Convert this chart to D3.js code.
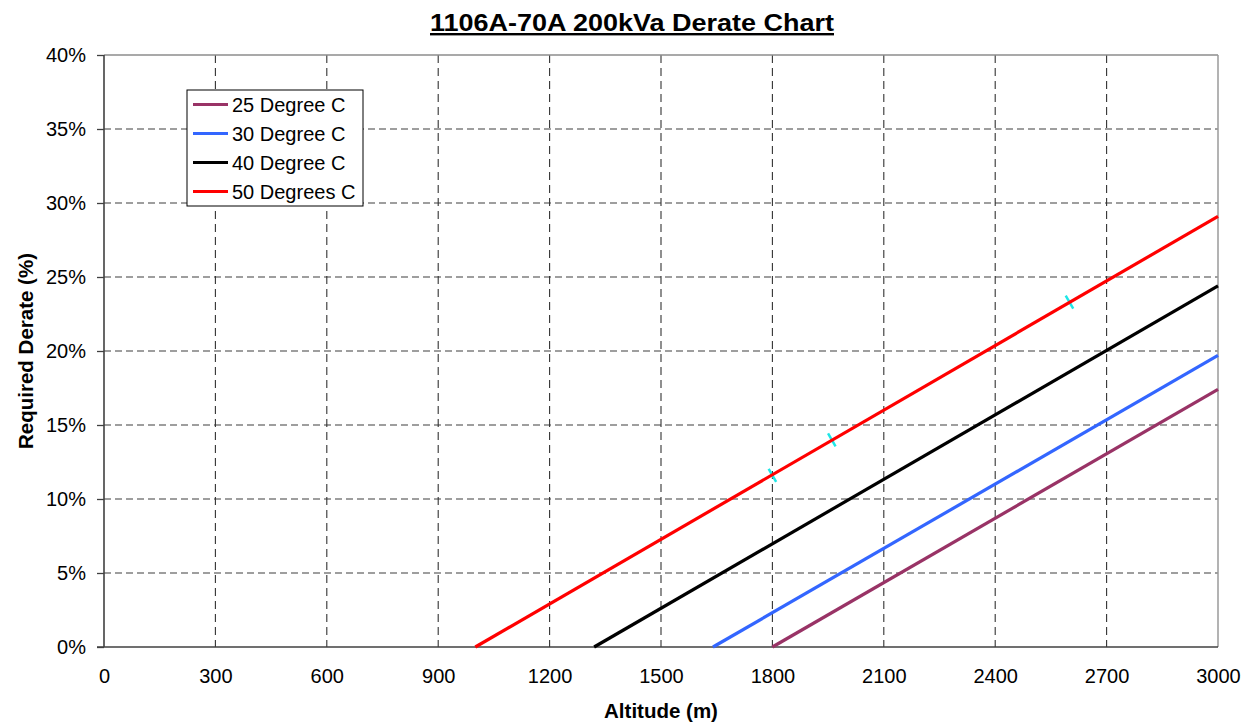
<!DOCTYPE html>
<html>
<head>
<meta charset="utf-8">
<script src="https://cdn.jsdelivr.net/npm/d3@7"></script>
<style>
  body { margin: 0; background: #fff; }
  svg { display: block; font-family: "Liberation Sans", Arial, sans-serif; }
</style>
</head>
<body>
<div id="chart"></div>
<script>
// Werte (Hoehe in m, Derate in %)
var seriesNames = ["25 Degree C", "30 Degree C", "40 Degree C", "50 Degrees C"];
var seriesColors = ["#993366", "#3366FF", "#000000", "#FF0000"];
var deg25 = [[1800, 0], [3000, 17.4]];
var deg30 = [[1640, 0], [3000, 19.7]];
var deg40 = [[1320, 0], [3000, 24.4]];
var deg50 = [[1000, 0], [3000, 29.1]];
// kleine cyan Markierungen auf der roten Linie
var markAlt = [1800, 1960, 2600];
var markDerate = [11.6, 14.0, 23.3];
var xTicks = [0, 300, 600, 900, 1200, 1500, 1800, 2100, 2400, 2700, 3000];
var yTicks = [0, 5, 10, 15, 20, 25, 30, 35, 40];

var width = 1258, height = 724;
var margin = {top: 55, right: 40, bottom: 77, left: 104};

var svg = d3.select("#chart").append("svg")
    .attr("width", width).attr("height", height);

var x = d3.scaleLinear().domain([0, 3000]).range([margin.left, width - margin.right]);
var y = d3.scaleLinear().domain([0, 40]).range([height - margin.bottom, margin.top]);

// Gitterlinien
svg.append("g").selectAll("line").data(yTicks.filter(function(d){ return d > 0 && d < 40; }))
    .enter().append("line")
    .attr("x1", x(0)).attr("x2", x(3000))
    .attr("y1", function(d){ return y(d); }).attr("y2", function(d){ return y(d); })
    .attr("stroke", "#7f7f7f").attr("stroke-width", 1.3).attr("stroke-dasharray", "7,4");

svg.append("g").selectAll("line").data(xTicks.filter(function(d){ return d > 0 && d < 3000; }))
    .enter().append("line")
    .attr("x1", function(d){ return x(d); }).attr("x2", function(d){ return x(d); })
    .attr("y1", y(40)).attr("y2", y(0))
    .attr("stroke", "#333").attr("stroke-width", 1.1).attr("stroke-dasharray", "8,5");

// Rahmen oben und rechts
svg.append("line").attr("x1", x(0)).attr("x2", x(3000)).attr("y1", y(40)).attr("y2", y(40))
    .attr("stroke", "#8c8c8c").attr("stroke-width", 1.5);
svg.append("line").attr("x1", x(3000)).attr("x2", x(3000)).attr("y1", y(40)).attr("y2", y(0))
    .attr("stroke", "#9a9a9a").attr("stroke-width", 1.5);

// Achsen
var yAxis = d3.axisLeft(y).tickValues(yTicks).tickSize(7).tickPadding(11)
    .tickFormat(function(d){ return d + "%"; });
var gy = svg.append("g").attr("transform", "translate(" + x(0) + ",0)").call(yAxis);
gy.select(".domain").remove();
gy.selectAll("line").attr("stroke", "#404040").attr("stroke-width", 1.3);
gy.selectAll("text").attr("font-size", 20).attr("fill", "#000")
    .attr("font-family", "Liberation Sans, Arial, sans-serif");

var xAxis = d3.axisBottom(x).tickValues(xTicks).tickSize(0).tickPadding(22)
    .tickFormat(d3.format("d"));
var gx = svg.append("g").attr("transform", "translate(0," + y(0) + ")").call(xAxis);
gx.select(".domain").remove();
gx.selectAll("text").attr("font-size", 20).attr("fill", "#000")
    .attr("font-family", "Liberation Sans, Arial, sans-serif");

svg.append("line").attr("x1", x(0)).attr("x2", x(0)).attr("y1", y(40)).attr("y2", y(0))
    .attr("stroke", "#404040").attr("stroke-width", 1.6);
svg.append("line").attr("x1", x(0) - 7).attr("x2", x(3000)).attr("y1", y(0)).attr("y2", y(0))
    .attr("stroke", "#404040").attr("stroke-width", 1.6);

// Markierungen (senkrecht zur roten Linie)
var slope = (y(deg50[1][1]) - y(deg50[0][1])) / (x(deg50[1][0]) - x(deg50[0][0]));
var ang = Math.atan(slope) + Math.PI / 2;
var half = 7.5;
svg.append("g").selectAll("line").data(markAlt).enter().append("line")
    .attr("x1", function(d, i){ return x(d) - half * Math.cos(ang); })
    .attr("x2", function(d, i){ return x(d) + half * Math.cos(ang); })
    .attr("y1", function(d, i){ return y(markDerate[i]) - half * Math.sin(ang); })
    .attr("y2", function(d, i){ return y(markDerate[i]) + half * Math.sin(ang); })
    .attr("stroke", "#1ee6e6").attr("stroke-width", 2.5);

// Linien
var line = d3.line().x(function(d){ return x(d[0]); }).y(function(d){ return y(d[1]); });
var allSeries = [deg25, deg30, deg40, deg50];
svg.append("g").selectAll("path").data(allSeries).enter().append("path")
    .attr("d", line).attr("fill", "none")
    .attr("stroke", function(d, i){ return seriesColors[i]; })
    .attr("stroke-width", 3.2);

// Titel
svg.append("text").attr("x", 632).attr("y", 31)
    .attr("text-anchor", "middle").attr("font-size", 24).attr("font-weight", "bold")
    .attr("textLength", 404).attr("lengthAdjust", "spacingAndGlyphs")
    .style("text-decoration", "underline")
    .text("1106A-70A 200kVa Derate Chart");

// Achsentitel
svg.append("text").attr("x", (x(0) + x(3000)) / 2).attr("y", 718)
    .attr("text-anchor", "middle").attr("font-size", 20.5).attr("font-weight", "bold")
    .text("Altitude (m)");
svg.append("text").attr("transform", "translate(33," + ((y(0) + y(40)) / 2) + ") rotate(-90)")
    .attr("text-anchor", "middle").attr("font-size", 20.5).attr("font-weight", "bold")
    .text("Required Derate (%)");

// Legende
var legend = svg.append("g").attr("transform", "translate(187,90)");
legend.append("rect").attr("width", 176).attr("height", 116)
    .attr("fill", "#fff").attr("stroke", "#000").attr("stroke-width", 1);
var items = legend.selectAll(".item").data(seriesNames).enter().append("g")
    .attr("transform", function(d, i){ return "translate(0," + (14.5 + i * 29) + ")"; });
items.append("line").attr("x1", 6).attr("x2", 41)
    .attr("stroke", function(d, i){ return seriesColors[i]; }).attr("stroke-width", 3.2);
items.append("text").attr("x", 45).attr("dy", "0.35em").attr("font-size", 20)
    .text(function(d){ return d; });
</script>
</body>
</html>
